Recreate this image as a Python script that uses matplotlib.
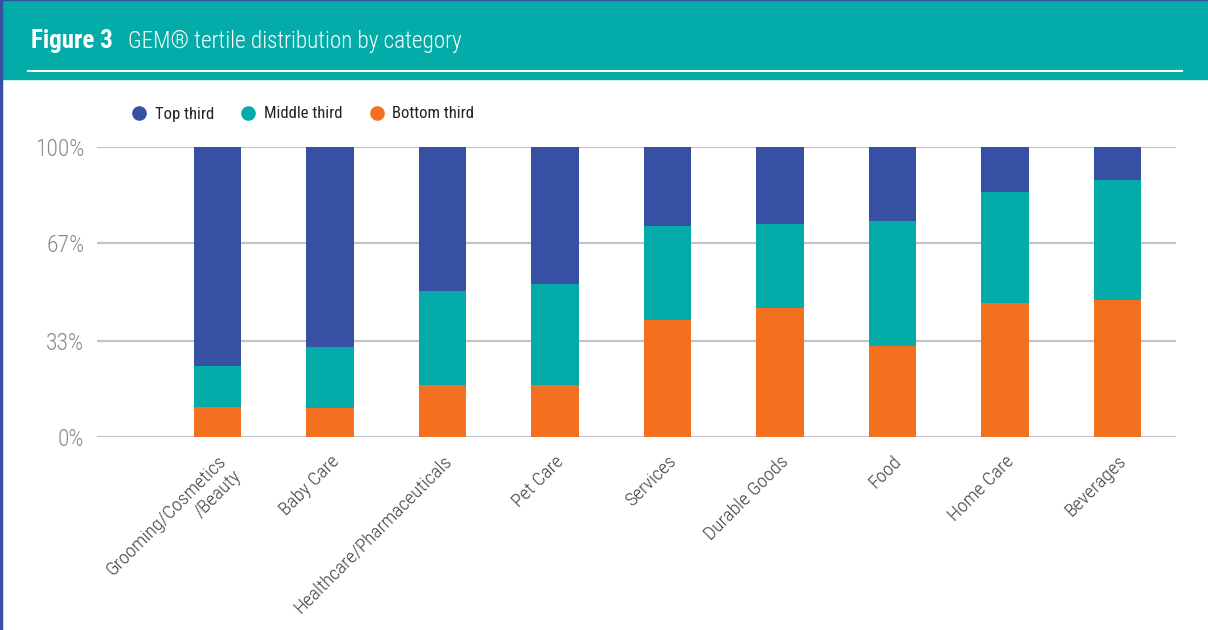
import numpy as np
import matplotlib
matplotlib.use("Agg")
import matplotlib.pyplot as plt
from matplotlib import font_manager
from matplotlib.lines import Line2D
from matplotlib.patches import Rectangle

# pick a narrow face if one is around
available = {f.name for f in font_manager.fontManager.ttflist}
narrow = [n for n in ["Roboto Condensed", "Liberation Sans Narrow", "Open Sans Condensed",
                      "DejaVu Sans Condensed"] if n in available]
plt.rcParams['font.family'] = narrow + ['Roboto', 'DejaVu Sans']
plt.rcParams['font.stretch'] = 'condensed'
cond = bool(narrow)

categories = ["Grooming/Cosmetics\n/Beauty", "Baby Care", "Healthcare/Pharmaceuticals",
              "Pet Care", "Services", "Durable Goods", "Food", "Home Care", "Beverages"]
bottom_third = [10.3, 10.0, 17.9, 17.9, 40.4, 44.6, 31.5, 46.2, 47.4]
middle_third = [14.2, 21.0, 32.4, 34.9, 32.3, 28.8, 42.9, 38.2, 41.1]
top_third = [75.5, 69.0, 49.7, 47.2, 27.3, 26.6, 25.6, 15.6, 11.5]
yticks = [0, 33, 67, 100]
ytick_labels = ["0%", "33%", "67%", "100%"]

blue = "#3750a3"
teal = "#03aca9"
orange = "#f37021"

k = 1.0 if cond else 0.8  # shrink sizes if only a wide face exists

fig = plt.figure(figsize=(12.08, 6.3), dpi=100)

# header banner
fig.patches.append(Rectangle((0, 1 - 79 / 630), 1, 79 / 630, transform=fig.transFigure,
                             color=teal, zorder=0))
fig.add_artist(Line2D([28 / 1208, 1182 / 1208], [1 - 71 / 630] * 2, color="white", lw=1.5))
fig.add_artist(Line2D([0.001, 0.001], [0, 1], color=blue, lw=2.5))
fig.add_artist(Line2D([0, 1], [0.9995, 0.9995], color=blue, lw=1))
fig.text(31 / 1208, 1 - 41 / 630, "Figure 3", color="white", fontsize=18 * k, fontweight="bold",
         va="center")
fig.text(128 / 1208, 1 - 41 / 630, "GEM\u00ae tertile distribution by category", color="white",
         fontsize=16.7 * k, fontweight="light", va="center")

ax = fig.add_axes([97 / 1208, 1 - 437 / 630, 1079 / 1208, 290 / 630])
x = np.arange(len(categories))
w = 0.418
ax.bar(x, bottom_third, w, color=orange, label="Bottom third", zorder=2)
ax.bar(x, middle_third, w, bottom=bottom_third, color=teal, label="Middle third", zorder=2)
ax.bar(x, top_third, w, bottom=np.array(bottom_third) + np.array(middle_third), color=blue,
       label="Top third", zorder=2)

ax.set_xlim(-1.071, 8.52)
ax.set_ylim(0, 100)
ax.set_yticks(yticks)
ax.set_yticklabels(ytick_labels, color="#8a8a8a", fontsize=17 * k, fontweight="light")
ax.yaxis.grid(True, color="#c4c4c4", lw=1.6, zorder=0)
ax.tick_params(axis="y", length=0, pad=9)
ax.set_xticks(x)
ax.set_xticklabels(categories, rotation=45, ha="right", rotation_mode="anchor",
                   color="#404040", fontsize=14 * k, fontweight="light", multialignment="right")
ax.tick_params(axis="x", length=0, pad=11)
for s in ax.spines.values():
    s.set_visible(False)

handles = [Line2D([], [], marker="o", ls="", color=c, markersize=9.5) for c in (blue, teal, orange)]
leg = fig.legend(handles, ["Top third", "Middle third", "Bottom third"], loc="center left",
                 bbox_to_anchor=(130.5 / 1208, 1 - 114 / 630), ncol=3, frameon=False,
                 prop={"size": 12 * k}, handlelength=1.0,
                 handletextpad=0.45, columnspacing=1.55, borderaxespad=0, borderpad=0)
for t in leg.get_texts():
    t.set_color("#222222")

fig.savefig("out.png", dpi=100)
